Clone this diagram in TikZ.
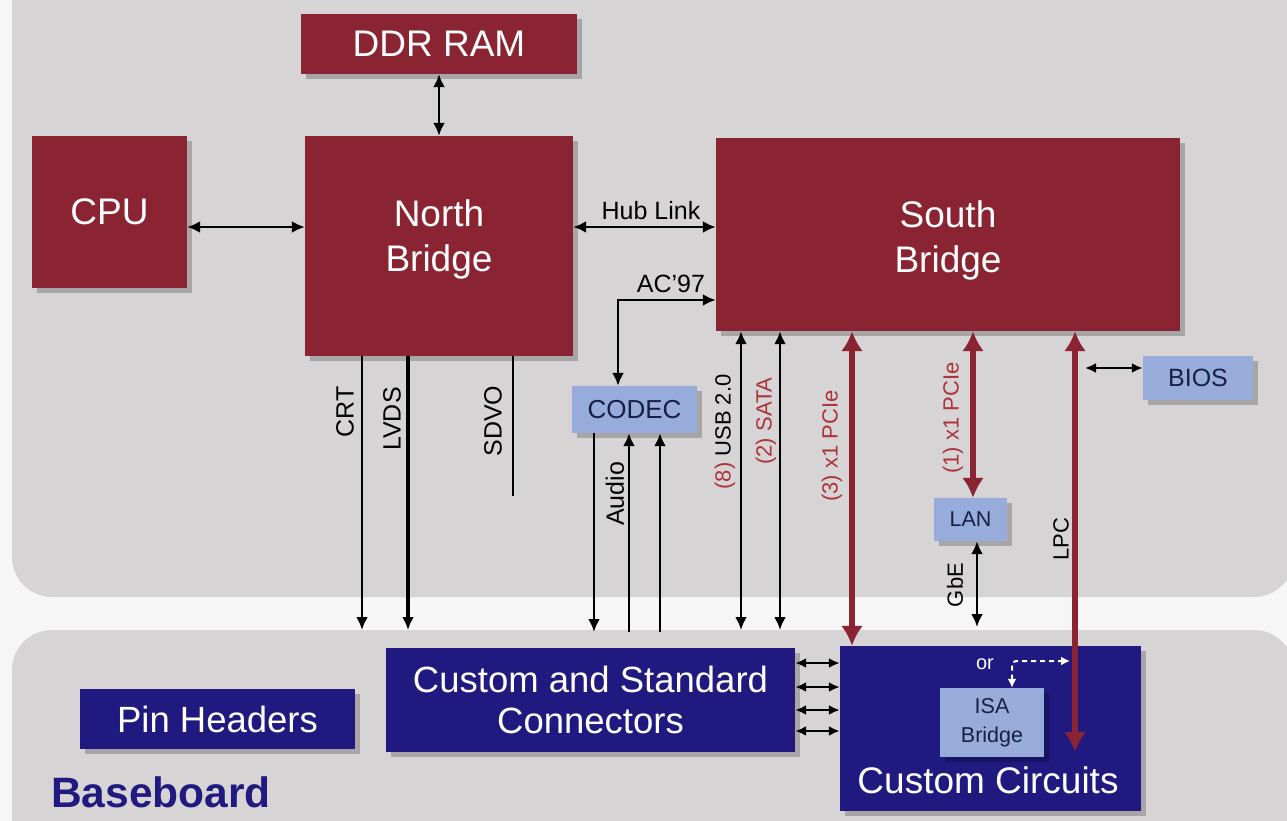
\documentclass[tikz,border=0pt]{standalone}
\usepackage{fontspec}
\setmainfont{Liberation Sans}
\usetikzlibrary{arrows.meta,shadows}
\definecolor{bg}{RGB}{246,246,246}
\definecolor{panel}{RGB}{214,212,212}
\definecolor{chipred}{RGB}{139,36,50}
\definecolor{navy}{RGB}{32,26,128}
\definecolor{lightblue}{RGB}{152,172,220}
\definecolor{lblred}{RGB}{172,52,58}
\definecolor{darktext}{RGB}{25,30,70}
\tikzset{
  shad/.style={drop shadow={shadow xshift=5pt,shadow yshift=-5pt,opacity=0.22,fill=black}},
  redbox/.style={fill=chipred,text=white,inner sep=0pt,align=center,shad,font=\fontsize{37}{45}\selectfont},
  bluebox/.style={fill=lightblue,text=darktext,inner sep=0pt,align=center,shad},
  navybox/.style={fill=navy,text=white,inner sep=0pt,align=center,shad,font=\fontsize{36.5}{41}\selectfont},
  boxtext/.style={text=white,align=center,inner sep=0pt,font=\fontsize{37}{45}\selectfont},
  lbl/.style={inner sep=0pt,text=black,font=\fontsize{25}{30}\selectfont},
  slbl/.style={inner sep=0pt,text=black,font=\fontsize{22}{26}\selectfont},
  rlbl/.style={inner sep=0pt,text=lblred,font=\fontsize{22}{26}\selectfont},
  darr/.style={draw=black,line width=2.6pt,{Latex[length=13pt,width=12pt]}-{Latex[length=13pt,width=12pt]}},
  sarr/.style={draw=black,line width=2.6pt,-{Latex[length=13pt,width=12pt]}},
  carr/.style={draw=black,line width=2.6pt,{Latex[length=11pt,width=10pt]}-{Latex[length=11pt,width=10pt]}},
  redarr/.style={draw=chipred,line width=6.5pt,{Latex[length=20pt,width=22pt]}-{Latex[length=20pt,width=22pt]}},
  dashedarr/.style={draw=white,line width=2pt,dash pattern=on 5pt off 4pt,{Latex[length=9pt,width=9pt]}-{Latex[length=9pt,width=9pt]}},
}
\begin{document}
\begin{tikzpicture}[x=1pt,y=-1pt]
\useasboundingbox (0,0) rectangle (1287,821);
\clip (0,0) rectangle (1287,821);
\fill[bg] (0,0) rectangle (1287,821);
% panels
\fill[panel,rounded corners=40pt] (12,-80) rectangle (1294,597);
\fill[panel,rounded corners=40pt] (12,630) rectangle (1294,900);

% red chips
\node[redbox,minimum width=276pt,minimum height=60pt] (ddr) at (439,44) {DDR RAM};
\node[redbox,minimum width=155pt,minimum height=151pt] (cpu) at (109.5,212) {CPU};
\node[redbox,minimum width=268pt,minimum height=220pt] (nb) at (439,246) {};
\node[boxtext] (nbt) at (439,239) {North\\Bridge};
\node[redbox,minimum width=464pt,minimum height=193pt] (sb) at (948,234.5) {};
\node[boxtext] (sbt) at (948,240) {South\\Bridge};

% light blue boxes
\node[bluebox,minimum width=110pt,minimum height=44pt,font=\fontsize{25}{30}\selectfont] (bios) at (1198,378) {BIOS};
\node[bluebox,minimum width=125pt,minimum height=47pt,font=\fontsize{26}{30}\selectfont] (codec) at (634.5,409.5) {CODEC};
\node[bluebox,minimum width=73pt,minimum height=43pt,font=\fontsize{21.5}{26}\selectfont] (lan) at (970.5,519.5) {LAN};

% baseboard boxes
\node[navybox,minimum width=275pt,minimum height=60pt] (pin) at (217.5,719) {Pin Headers};
\node[navybox,minimum width=409pt,minimum height=104pt] (csc) at (590.5,700) {Custom and Standard\\Connectors};
\node[navybox,minimum width=301pt,minimum height=165pt] (cc) at (990.5,728.5) {};
\node[bluebox,drop shadow={opacity=0},minimum width=104pt,minimum height=69pt,font=\fontsize{21.5}{29}\selectfont] (isa) at (992,722.5) {ISA\\Bridge};
\node[boxtext,font=\fontsize{37}{44}\selectfont] (cct) at (988,780) {Custom Circuits};
\node[inner sep=0pt,text=navy,font=\bfseries\fontsize{42.5}{48}\selectfont,anchor=west] (base) at (51,792) {Baseboard};

% top connectors
\draw[darr] (ddr.south) -- (nb.north);
\coordinate (cpuy) at (0,227);
\draw[darr] (cpu.east |- cpuy) -- (nb.west |- cpuy);
\draw[darr] (nb.east |- cpuy) -- (sb.west |- cpuy);
\node[lbl] (hubL) at (651,211) {Hub Link};
\coordinate (acy) at (618,300);
\draw[darr] (sb.west |- acy) -- (acy) -- (codec.north -| acy);
\node[lbl] (acL) at (671,284) {AC'97};

% north bridge outputs
\coordinate (crtE) at (362,630);
\draw[sarr] (nb.south -| crtE) -- (crtE);
\node[lbl,rotate=90] (crtL) at (345,412) {CRT};
\coordinate (lvdsE) at (408,630);
\draw[sarr,line width=4.2pt] (nb.south -| lvdsE) -- (lvdsE);
\node[lbl,rotate=90] (lvdsL) at (392,419) {LVDS};
\coordinate (sdvoE) at (513,496);
\draw[line width=1.6pt] (nb.south -| sdvoE) -- (sdvoE);
\node[lbl,rotate=90] (sdvoL) at (493,421) {SDVO};

% codec audio
\coordinate (au1) at (594,632);
\coordinate (au2) at (629,632);
\coordinate (au3) at (660,632);
\draw[sarr] (codec.south -| au1) -- (au1);
\draw[sarr] (au2) -- (codec.south -| au2);
\draw[sarr] (au3) -- (codec.south -| au3);
\node[lbl,rotate=90] (audioL) at (615,494) {Audio};

% south bridge outputs
\coordinate (usbE) at (741,630);
\draw[darr] (sb.south -| usbE) -- (usbE);
\node[slbl,rotate=90] (usbL) at (725,432) {\textcolor{lblred}{(8)} USB 2.0};
\coordinate (sataE) at (780,630);
\draw[darr] (sb.south -| sataE) -- (sataE);
\node[rlbl,rotate=90] (sataL) at (766,421) {(2) SATA};
\coordinate (p3) at (852,0);
\draw[redarr] (sb.south -| p3) -- (cc.north -| p3);
\node[rlbl,rotate=90] (p3L) at (832,446) {(3) x1 PCIe};
\coordinate (p1) at (973,0);
\draw[redarr] (sb.south -| p1) -- (lan.north -| p1);
\node[rlbl,rotate=90] (p1L) at (953,418) {(1) x1 PCIe};
\coordinate (gbeE) at (977,627);
\draw[darr] (lan.south -| gbeE) -- (gbeE);
\node[slbl,rotate=90] (gbeL) at (955,585) {GbE};
\coordinate (lpcE) at (1075,752);
\draw[redarr] (sb.south -| lpcE) -- (lpcE);
\node[slbl,rotate=90] (lpcL) at (1061,539) {LPC};
\coordinate (biosA) at (1085,368);
\draw[carr] (biosA) -- (bios.west |- biosA);

% connectors between baseboard blocks
\foreach \yy [count=\i] in {663,687,710,731}{
  \coordinate (cy\i) at (0,\yy);
  \draw[carr] (csc.east |- cy\i) -- (cc.west |- cy\i);
}

% ISA option
\node[inner sep=0pt,text=white,font=\fontsize{20}{24}\selectfont] (orL) at (985,664) {or};
\coordinate (dc) at (1012,661);
\coordinate (dr) at (1070,661);
\draw[dashedarr,rounded corners=4pt] (isa.north -| dc) -- (dc) -- (dr);
\end{tikzpicture}
\end{document}
